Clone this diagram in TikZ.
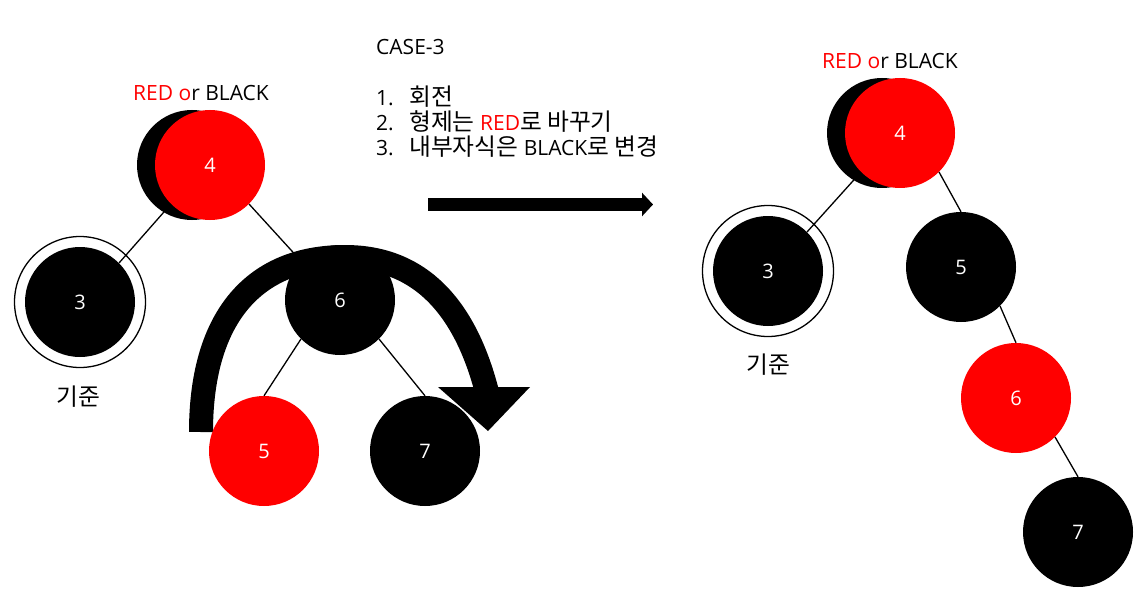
\documentclass[tikz,border=0pt]{standalone}
\usepackage{fontspec}
\setmainfont{Open Sans}
\newfontfamily\kr[Scale=1.13]{Noto Sans CJK KR}
\usetikzlibrary{arrows.meta}
\definecolor{pptred}{RGB}{255,0,0}
\begin{document}
\begin{tikzpicture}[x=1pt,y=-1pt,
  tnode/.style={circle,minimum size=110pt,inner sep=0pt,text=white,font=\fontsize{20}{20}\selectfont},
  rednode/.style={tnode,fill=pptred},
  blacknode/.style={tnode,fill=black},
  ring/.style={circle,minimum size=131pt,inner sep=0pt,draw=black,line width=1.3pt,fill=white},
  edge/.style={line width=1.3pt},
  txt/.style={font=\fontsize{21}{21}\selectfont,inner sep=0pt},
  bigarrow/.style={line width=24pt},
]
\useasboundingbox[fill=white] (0,0) rectangle (1142,604);

% curved rotation arrow (left)
\coordinate (ca0) at (201,432);
\coordinate (ca1) at (345,257);
\coordinate (ca2) at (487,392);
\coordinate (ah1) at (438,387);
\coordinate (ah2) at (530,387);
\coordinate (ah3) at (488,431);
\draw[bigarrow] (ca0) .. controls (201,322) and (250,257) .. (ca1)
  .. controls (420,257) and (465,307) .. (ca2);
\fill (ah1) -- (ah2) -- (ah3) -- cycle;

% left tree
\node[blacknode] (l4b) at (192,165) {};
\node[rednode] (l4) at (210,165) {4};
\node[ring] (l3r) at (80,302) {};
\node[blacknode] (l3) at (80,302) {3};
\node[blacknode] (l6) at (340,300) {6};
\node[rednode] (l5) at (264,451) {5};
\node[blacknode] (l7) at (425,451) {7};
\node[txt] (lab4l) at (201,93) {\textcolor{pptred}{RED o}r BLACK};
\node[txt] (gl) at (78,397) {\kr 기준};

\draw[edge] (l4.south west) -- (l3.north east);
\draw[edge] (l4.south east) -- (l6.north west);
\draw[edge] (l6.south west) -- (l5.north);
\draw[edge] (l6.south east) -- (l7.north);

% middle text
\node[txt,anchor=base west] (case) at (376,55) {CASE-3};
\node[txt,anchor=base west] (n1) at (376,106) {1.};
\node[txt,anchor=base west] (t1) at (409,106) {\kr 회전};
\node[txt,anchor=base west] (n2) at (376,131) {2.};
\node[txt,anchor=base west] (t2) at (409,131) {{\kr 형제는} \textcolor{pptred}{RED}{\kr 로 바꾸기}};
\node[txt,anchor=base west] (n3) at (376,156) {3.};
\node[txt,anchor=base west] (t3) at (409,156) {{\kr 내부자식은} BLACK{\kr 로 변경}};

% straight arrow
\coordinate (sa) at (428,204.5);
\coordinate (sb) at (653,204.5);
\draw[line width=13pt,-{Triangle[length=11pt,width=23pt]}] (sa) -- (sb);

% right tree
\node[blacknode] (r4b) at (882,133) {};
\node[rednode] (r4) at (900,133) {4};
\node[ring] (r3r) at (768,271) {};
\node[blacknode] (r3) at (768,271) {3};
\node[blacknode] (r5) at (961,267) {5};
\node[rednode] (r6) at (1016,398) {6};
\node[blacknode] (r7) at (1078,532) {7};
\node[txt] (lab4r) at (890,61) {\textcolor{pptred}{RED o}r BLACK};
\node[txt] (gr) at (768,365) {\kr 기준};

\draw[edge] (r4.south west) -- (r3.north east);
\draw[edge] (r4.south east) -- (r5.north);
\draw[edge] (r5.south east) -- (r6.north);
\draw[edge] (r6.south east) -- (r7.north);
\end{tikzpicture}
\end{document}
